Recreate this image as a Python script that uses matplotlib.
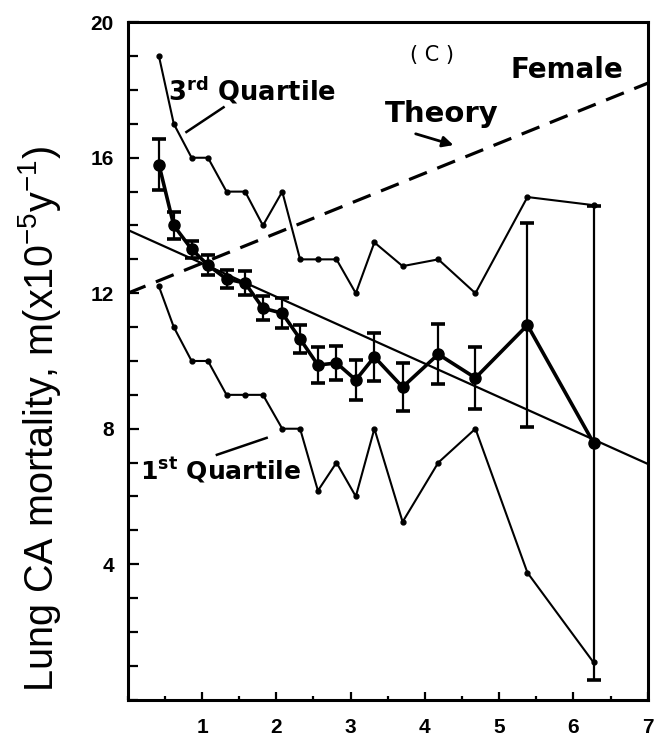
import numpy as np
import matplotlib
matplotlib.use("Agg")
import matplotlib.pyplot as plt
from matplotlib.ticker import MultipleLocator, FixedLocator

plt.rcParams['font.family'] = ['Liberation Sans', 'DejaVu Sans']
plt.rcParams['mathtext.fontset'] = 'custom'
plt.rcParams['mathtext.rm'] = 'Liberation Sans'
plt.rcParams['mathtext.it'] = 'Liberation Sans:italic'
plt.rcParams['mathtext.bf'] = 'DejaVu Sans:bold'

# radon level (x) for each group
x = [0.42, 0.62, 0.86, 1.08, 1.33, 1.58, 1.82, 2.08, 2.32, 2.56,
     2.81, 3.07, 3.32, 3.70, 4.18, 4.68, 5.38, 6.27]
# mean female lung cancer mortality and its error
m_mean = [15.8, 14.0, 13.3, 12.83, 12.42, 12.3, 11.56, 11.41, 10.65, 9.88,
          9.94, 9.44, 10.12, 9.23, 10.2, 9.5, 11.06, 7.58]
m_err = [0.75, 0.4, 0.25, 0.3, 0.27, 0.35, 0.35, 0.45, 0.4, 0.53,
         0.5, 0.6, 0.7, 0.7, 0.88, 0.92, 3.0, 7.0]
# quartiles
q3 = [19.0, 17.0, 16.0, 16.0, 15.0, 15.0, 14.0, 15.0, 13.0, 13.0,
      13.0, 12.0, 13.5, 12.8, 13.0, 12.0, 14.84, 14.6]
q1 = [12.2, 11.0, 10.0, 10.0, 9.0, 9.0, 9.0, 8.0, 8.0, 6.17,
      7.0, 6.0, 8.0, 5.25, 7.0, 8.0, 3.75, 1.1]

# straight lines: fitted and theory
fit_a, fit_b = 13.87, -0.987
theory_a, theory_b = 12.0, 0.886

fig = plt.figure(figsize=(6.55, 7.42), dpi=100)
ax = fig.add_axes([0.195, 0.057, 0.794, 0.913])

xl = np.array([0, 7])
ax.plot(xl, fit_a + fit_b * xl, color='black', lw=1.6)
ax.plot(xl, theory_a + theory_b * xl, color='black', lw=2.3,
        dashes=(6, 3.5))

ax.plot(x, q3, color='black', lw=1.5, marker='o', ms=3.5)
ax.plot(x, q1, color='black', lw=1.5, marker='o', ms=3.5)

ax.errorbar(x, m_mean, yerr=m_err, color='black', lw=2.6, marker='o',
            ms=8, elinewidth=1.6, capsize=5, capthick=2.6)

ax.set_xlim(0, 7)
ax.set_ylim(0, 20)
ax.xaxis.set_major_locator(FixedLocator([1, 2, 3, 4, 5, 6, 7]))
ax.xaxis.set_minor_locator(MultipleLocator(0.5))
ax.yaxis.set_major_locator(FixedLocator([4, 8, 12, 16, 20]))
ax.yaxis.set_minor_locator(MultipleLocator(1))
ax.tick_params(axis='both', which='both', direction='in', width=1.6,
               labelsize=15)
ax.tick_params(axis='x', which='major', length=6, pad=13)
ax.tick_params(axis='x', which='minor', length=3)
ax.tick_params(axis='y', which='major', length=8, pad=10)
ax.tick_params(axis='y', which='minor', length=7)
for lab in ax.get_xticklabels() + ax.get_yticklabels():
    lab.set_fontweight('bold')
for sp in ax.spines.values():
    sp.set_linewidth(2.2)

fig.text(0.060, 0.068, r'Lung CA mortality, m(x10$^{-5}$y$^{-1}$)',
         fontsize=28.5, rotation=90, ha='center', va='bottom')

dv = ['DejaVu Sans']
ax.text(4.09, 19.03, '( C )', fontsize=15, family=dv,
        ha='center', va='center')
ax.text(5.91, 18.58, 'Female', fontsize=20, fontweight='bold', family=dv,
        ha='center', va='center')
ax.text(4.23, 17.3, 'Theory', fontsize=21, fontweight='bold', family=dv,
        ha='center', va='center')
ax.annotate('', xy=(4.42, 16.35), xytext=(3.84, 16.73),
            arrowprops=dict(arrowstyle='-|>', color='black', lw=2.0,
                            mutation_scale=16))
ax.text(1.68, 17.96, r'3$^{\mathbf{rd}}$ Quartile', fontsize=18.5,
        fontweight='bold', family=dv, ha='center', va='center')
ax.plot([0.79, 1.29], [16.76, 17.49], color='black', lw=1.8)
ax.text(1.25, 6.76, r'1$^{\mathbf{st}}$ Quartile', fontsize=18,
        fontweight='bold', family=dv, ha='center', va='center')
ax.plot([1.2, 1.87], [7.23, 7.73], color='black', lw=1.8)

fig.savefig('out.png', dpi=100)
